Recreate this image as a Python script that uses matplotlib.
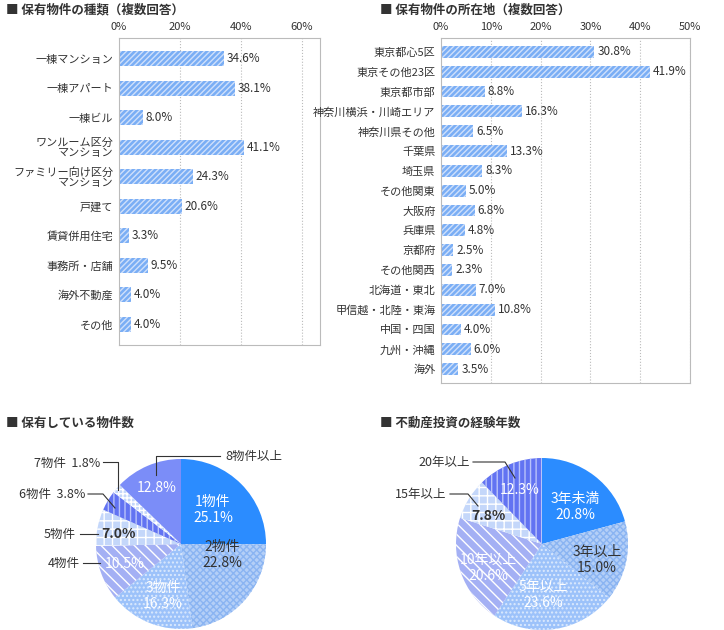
import matplotlib
matplotlib.use("Agg")
import matplotlib.pyplot as plt
import numpy as np

plt.rcParams['font.family'] = ['Noto Sans CJK JP', 'DejaVu Sans']

types_cat = ["一棟マンション", "一棟アパート", "一棟ビル", "ワンルーム区分\nマンション", "ファミリー向け区分\nマンション",
             "戸建て", "賃貸併用住宅", "事務所・店舗", "海外不動産", "その他"]
types_val = [34.6, 38.1, 8.0, 41.1, 24.3, 20.6, 3.3, 9.5, 4.0, 4.0]
types_ticks = [0, 20, 40, 60]

loc_cat = ["東京都心5区", "東京その他23区", "東京都市部", "神奈川横浜・川崎エリア", "神奈川県その他", "千葉県", "埼玉県",
           "その他関東", "大阪府", "兵庫県", "京都府", "その他関西", "北海道・東北", "甲信越・北陸・東海", "中国・四国",
           "九州・沖縄", "海外"]
loc_val = [30.8, 41.9, 8.8, 16.3, 6.5, 13.3, 8.3, 5.0, 6.8, 4.8, 2.5, 2.3, 7.0, 10.8, 4.0, 6.0, 3.5]
loc_ticks = [0, 10, 20, 30, 40, 50]

cnt_cat = ["1物件", "2物件", "3物件", "4物件", "5物件", "6物件", "7物件", "8物件以上"]
cnt_val = [25.1, 22.8, 16.3, 10.5, 7.0, 3.8, 1.8, 12.8]

yrs_cat = ["3年未満", "3年以上", "5年以上", "10年以上", "15年以上", "20年以上"]
yrs_val = [20.8, 15.0, 23.6, 20.6, 7.8, 12.3]

W, H = 724, 630
fig = plt.figure(figsize=(W/100, H/100), dpi=100)

def px_axes(l, t, w, h):
    return fig.add_axes([l/W, 1-(t+h)/H, w/W, h/H])

def title(x, y, s):
    fig.text(x/W, 1-y/H, "■ " + s, fontsize=9, fontweight='bold', color='#333333', va='center')

BAR = '#7aaef5'
plt.rcParams['hatch.linewidth'] = 1.0

def barchart(ax, cats, vals, ticks, xmax, barh, fs):
    y = np.arange(len(cats))
    ax.barh(y, vals, height=barh, color=BAR, hatch='//////', edgecolor='#cfe0fb', linewidth=0)
    ax.set_xlim(0, xmax)
    ax.set_ylim(len(cats)-0.3, -0.7)
    ax.set_yticks(y)
    ax.set_yticklabels(cats, fontsize=fs, color='#333333', linespacing=1.0)
    ax.set_xticks(ticks)
    ax.set_xticklabels([f"{t}%" for t in ticks], fontsize=8, color='#333333')
    ax.xaxis.tick_top()
    ax.tick_params(length=0, pad=4)
    for t in ticks[1:]:
        ax.axvline(t, color='#bbbbbb', ls=':', lw=0.8, zorder=0)
    for s in ax.spines.values():
        s.set_color('#bbbbbb'); s.set_linewidth(0.8)
    for yi, v in zip(y, vals):
        ax.text(v + xmax*0.012, yi, f"{v:.1f}%", va='center', fontsize=8.5, color='#333333')

title(6, 10, "保有物件の種類（複数回答）")
ax1 = px_axes(119, 38, 201, 307)
barchart(ax1, types_cat, types_val, types_ticks, 66, 0.5, 8)

title(380, 10, "保有物件の所在地（複数回答）")
ax2 = px_axes(441, 38, 249, 345)
barchart(ax2, loc_cat, loc_val, loc_ticks, 50, 0.6, 8)

def pie(cx, cy, R, vals, styles):
    ax = px_axes(cx-R, cy-R, 2*R, 2*R)
    wedges, _ = ax.pie(vals, startangle=90, counterclock=False, radius=1)
    for w, (fc, hc, hatch) in zip(wedges, styles):
        w.set_facecolor(fc); w.set_edgecolor(hc); w.set_linewidth(0)
        if hatch: w.set_hatch(hatch)
    ax.set_xlim(-1, 1); ax.set_ylim(-1, 1); ax.set_aspect('equal')
    ax.axis('off')
    def P(px, py):
        return ((px-cx)/R, (cy-py)/R)
    return ax, P

def label(ax, P, px, py, s, color, fs=9.5, ha='center', bold=False):
    x, y = P(px, py)
    ax.text(x, y, s, ha=ha, va='center', color=color, fontsize=fs, clip_on=False,
            fontweight='bold' if bold else 'normal', linespacing=1.2)

def leader(ax, P, pts):
    xs, ys = zip(*[P(a, b) for a, b in pts])
    ax.plot(xs, ys, color='#333333', lw=0.8, clip_on=False)

title(6, 423, "保有している物件数")
cnt_styles = [('#2b8cff', None, None), ('#b4cff7', '#8ab4f2', 'xxxxx'), ('#9cc2fa', '#dbe9fd', '....'),
              ('#a4b0f4', '#ffffff', '\\\\\\'), ('#c4d7fa', '#ffffff', '++'), ('#6273f2', '#b9c3fa', '|||'),
              ('#c4d7fa', '#ffffff', '++++'), ('#7b8df8', None, None)]
axp, P = pie(181, 544, 85, cnt_val, cnt_styles)
label(axp, P, 213, 510, "1物件\n25.1%", 'white', fs=10)
label(axp, P, 222, 555, "2物件\n22.8%", '#333333', fs=10)
label(axp, P, 163, 596, "3物件\n16.3%", 'white', fs=10)
label(axp, P, 125, 564, "10.5%", 'white', fs=10)
label(axp, P, 118, 534, "7.0%", '#333333', fs=10, bold=True)
label(axp, P, 157, 488, "12.8%", 'white', fs=10)
label(axp, P, 225, 456, "8物件以上", '#333333', fs=9, ha='left')
leader(axp, P, [(156, 475), (156, 456), (220, 456)])
label(axp, P, 100, 463, "7物件  1.8%", '#333333', fs=9, ha='right')
leader(axp, P, [(103, 462), (118, 462), (118, 490)])
label(axp, P, 85, 494, "6物件  3.8%", '#333333', fs=9, ha='right')
leader(axp, P, [(88, 494), (103, 494), (115, 508)])
label(axp, P, 76, 534, "5物件", '#333333', fs=9, ha='right')
leader(axp, P, [(80, 534), (98, 534)])
label(axp, P, 80, 563, "4物件", '#333333', fs=9, ha='right')
leader(axp, P, [(83, 563), (100, 563)])

title(380, 423, "不動産投資の経験年数")
yrs_styles = [('#2b8cff', None, None), ('#b4cff7', '#8ab4f2', 'xxxxx'), ('#9cc2fa', '#dbe9fd', '....'),
              ('#a4b0f4', '#ffffff', '\\\\\\'), ('#c4d7fa', '#ffffff', '++'), ('#6273f2', '#b9c3fa', '|||')]
axq, Q = pie(542, 544, 86, yrs_val, yrs_styles)
label(axq, Q, 575, 507, "3年未満\n20.8%", 'white', fs=10)
label(axq, Q, 597, 560, "3年以上\n15.0%", '#333333', fs=10)
label(axq, Q, 543, 595, "5年以上\n23.6%", 'white', fs=10)
label(axq, Q, 488, 568, "10年以上\n20.6%", 'white', fs=10)
label(axq, Q, 488, 516, "7.8%", '#333333', fs=10, bold=True)
label(axq, Q, 520, 490, "12.3%", 'white', fs=10)
label(axq, Q, 470, 462, "20年以上", '#333333', fs=9, ha='right')
leader(axq, Q, [(473, 462), (505, 462), (515, 478)])
label(axq, Q, 446, 494, "15年以上", '#333333', fs=9, ha='right')
leader(axq, Q, [(450, 494), (468, 494), (478, 506)])

fig.savefig("out.png", dpi=100)
